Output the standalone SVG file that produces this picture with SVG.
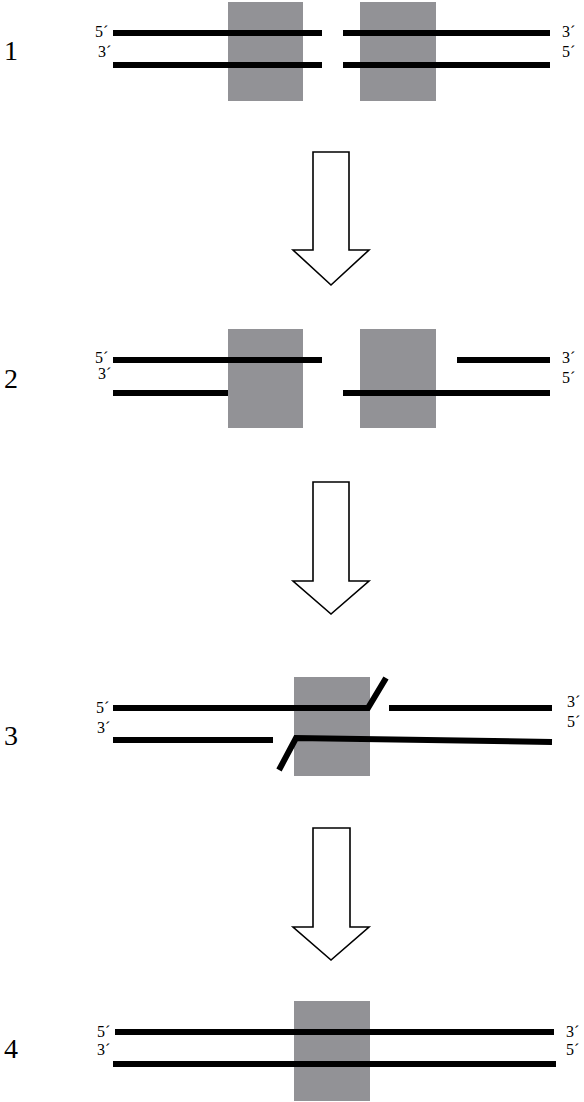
<svg xmlns="http://www.w3.org/2000/svg" width="584" height="1102" viewBox="0 0 584 1102">
<style>
.box{fill:#929296}
.dna{stroke:#000;stroke-width:6;fill:none;stroke-linejoin:miter}
text{font-family:"Liberation Serif","Times New Roman",Times,serif;fill:#000}
.end{font-size:16px}
.num{font-size:28px}
.arrow{fill:#fff;stroke:#000;stroke-width:1.6;stroke-linejoin:miter}
</style>
<rect width="584" height="1102" fill="#fff"/>
<g id="step1">
<rect class="box" x="228" y="2" width="75" height="99"/>
<rect class="box" x="360" y="2" width="76" height="99"/>
<path class="dna" d="M113 33H322M343 33H550M113 65H322M343 65H550"/>
<text class="num" x="4" y="60" font-family="Liberation Serif, serif">1</text>
<text class="end" x="95" y="37" font-family="Liberation Serif, serif">5´</text>
<text class="end" x="98" y="57" font-family="Liberation Serif, serif">3´</text>
<text class="end" x="562" y="37" font-family="Liberation Serif, serif">3´</text>
<text class="end" x="562" y="57" font-family="Liberation Serif, serif">5´</text>
</g>
<g id="step2">
<rect class="box" x="228" y="329" width="75" height="99"/>
<rect class="box" x="360" y="329" width="76" height="99"/>
<path class="dna" d="M113 360H322M457 360H550M113 393H228M343 393H550"/>
<text class="num" x="4" y="388" font-family="Liberation Serif, serif">2</text>
<text class="end" x="95" y="363" font-family="Liberation Serif, serif">5´</text>
<text class="end" x="98" y="379" font-family="Liberation Serif, serif">3´</text>
<text class="end" x="562" y="363" font-family="Liberation Serif, serif">3´</text>
<text class="end" x="562" y="383" font-family="Liberation Serif, serif">5´</text>
</g>
<g id="step3">
<rect class="box" x="294" y="677" width="76" height="99"/>
<path class="dna" d="M113 708H368L386 678M389 708H552M113 740H273M279 770L296 738L552 742"/>
<text class="num" x="4" y="745" font-family="Liberation Serif, serif">3</text>
<text class="end" x="96" y="713" font-family="Liberation Serif, serif">5´</text>
<text class="end" x="97" y="733" font-family="Liberation Serif, serif">3´</text>
<text class="end" x="567" y="707" font-family="Liberation Serif, serif">3´</text>
<text class="end" x="567" y="727" font-family="Liberation Serif, serif">5´</text>
</g>
<g id="step4">
<rect class="box" x="294" y="1001" width="76" height="100"/>
<path class="dna" d="M115 1032H554M113 1064H556"/>
<text class="num" x="4" y="1058" font-family="Liberation Serif, serif">4</text>
<text class="end" x="97" y="1037" font-family="Liberation Serif, serif">5´</text>
<text class="end" x="97" y="1055" font-family="Liberation Serif, serif">3´</text>
<text class="end" x="566" y="1037" font-family="Liberation Serif, serif">3´</text>
<text class="end" x="566" y="1055" font-family="Liberation Serif, serif">5´</text>
</g>
<g id="connectors">
<path class="arrow" d="M313 152H349V250H369L331 285L293 250H313Z"/>
<path class="arrow" d="M313 482H349V581H369L331 614L293 581H313Z"/>
<path class="arrow" d="M313 828H350V927H369L331 960L293 927H313Z"/>
</g>
</svg>
